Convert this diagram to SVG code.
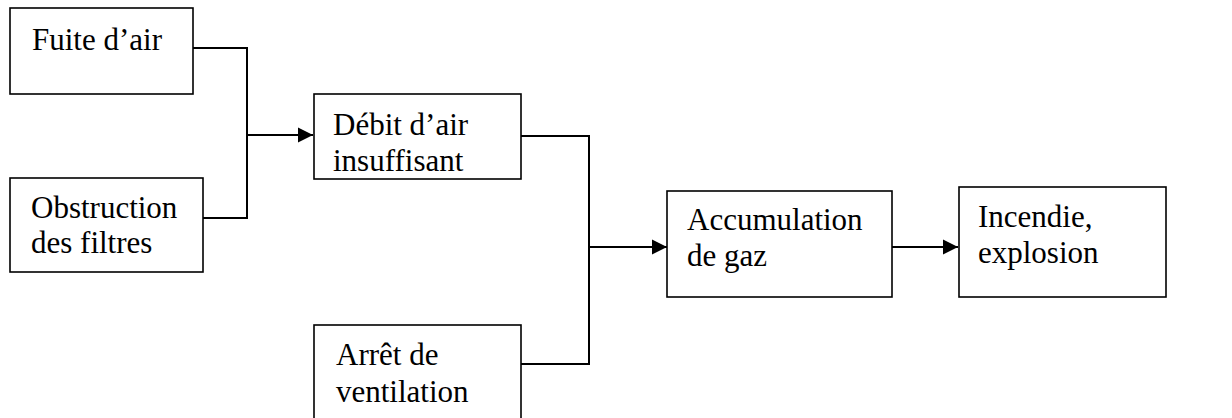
<svg xmlns="http://www.w3.org/2000/svg" width="1232" height="418" viewBox="0 0 1232 418">
<style>
.box{fill:#fff;stroke:#000;stroke-width:1.6}
.lbl{font-family:"Liberation Serif","Times New Roman",serif;font-size:31px;fill:#000}
.ln{fill:none;stroke:#000;stroke-width:2}
</style>
<defs>
<marker id="ah" markerWidth="16" markerHeight="16" refX="15" refY="8" orient="auto" markerUnits="userSpaceOnUse">
<path d="M0,0.5 L15,8 L0,15.5 Z" fill="#000"/>
</marker>
</defs>
<rect width="1232" height="418" fill="#fff"/>
<g id="connectors">
<polyline class="ln" points="193,48 247,48 247,218 203,218"/>
<line class="ln" x1="247" y1="135" x2="313" y2="135" marker-end="url(#ah)"/>
<polyline class="ln" points="521,136 589,136 589,364 521,364"/>
<line class="ln" x1="589" y1="247" x2="667" y2="247" marker-end="url(#ah)"/>
<line class="ln" x1="892" y1="247" x2="958" y2="247" marker-end="url(#ah)"/>
</g>
<g id="fuite">
<rect class="box" x="10" y="8" width="183" height="86"/>
<text class="lbl" x="32" y="50">Fuite d’air</text>
</g>
<g id="obstruction">
<rect class="box" x="10" y="178" width="193" height="94"/>
<text class="lbl" x="31" y="218">Obstruction</text>
<text class="lbl" x="31" y="253">des filtres</text>
</g>
<g id="debit">
<rect class="box" x="314" y="94" width="207" height="85"/>
<text class="lbl" x="333" y="135">Débit d’air</text>
<text class="lbl" x="333" y="171">insuffisant</text>
</g>
<g id="arret">
<rect class="box" x="314" y="325" width="207" height="100"/>
<text class="lbl" x="336" y="365">Arrêt de</text>
<text class="lbl" x="336" y="402">ventilation</text>
</g>
<g id="accumulation">
<rect class="box" x="667" y="191" width="225" height="106"/>
<text class="lbl" x="687" y="230">Accumulation</text>
<text class="lbl" x="687" y="266">de gaz</text>
</g>
<g id="incendie">
<rect class="box" x="959" y="187" width="207" height="110"/>
<text class="lbl" x="978" y="227">Incendie,</text>
<text class="lbl" x="978" y="263">explosion</text>
</g>
</svg>
